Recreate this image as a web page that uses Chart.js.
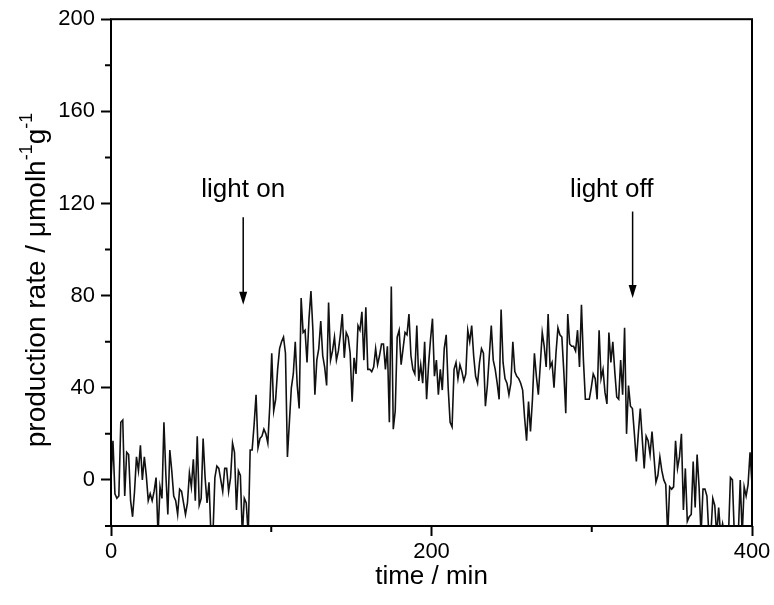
<!DOCTYPE html>
<html><head><meta charset="utf-8">
<script src="https://cdn.jsdelivr.net/npm/chart.js@4.4.1/dist/chart.umd.min.js"></script>
<style>html,body{margin:0;padding:0;background:#fff}</style>
</head><body>
<canvas id="c" width="774" height="605"></canvas>
<script>
const rate = [
  0, 17, -6, -8, -7, 25, 26, -7, 12, 11, -9, -16, -5, 10, 4, 15, 0, 10, 2, -9,
  -6, -9, -5, 1, -24, -3, -8, 25, 2, -15, 13, 4, -7, -9, -15, -4, -5, -10, -15, -10,
  3, -3, 9, -9, 19, -11, -8, 18, 1, -10, -1, -24, -24, 1, 6, 5, 0, -5, 5, 5,
  -5, 1, 16, 12, -13, 4, 2, -24, -8, -10, -24, 13, 13, 24, 37, 14,
  18, 19, 22, 20, 16, 32, 55, 30, 35, 48, 57, 60, 62, 55, 10, 25, 40, 46, 60, 41,
  31, 79, 64, 65, 51, 70, 82, 65, 37, 52, 57, 69, 54, 49, 41, 77, 52, 56, 62, 52,
  56, 63, 72, 53, 64, 62, 55, 34, 53, 46, 67, 65, 73, 52, 75, 48, 48, 47, 49, 57,
  50, 54, 59, 59, 48, 58, 25, 84, 22, 30, 62,
  65, 50, 57, 64, 63, 72, 54, 48, 46, 67, 43, 50, 42, 60, 35, 50, 61, 70, 45, 52,
  37, 48, 39, 57, 63, 40, 25, 23, 48, 51, 44, 50, 47, 43, 46, 65, 60, 67, 54, 45,
  42, 51, 57, 55, 32, 41, 54, 67, 52, 48, 42, 35, 74, 51, 44, 42, 37, 42, 60, 47,
  45, 44, 42, 39, 27, 17, 34, 21, 35, 55, 45, 37, 50, 64, 58, 49,
  72, 49, 51, 40, 55, 66, 63, 62, 47, 29, 72, 59, 58, 58, 56, 65, 49, 76, 52, 35,
  35, 35, 40, 46, 44, 35, 65, 44, 48, 38, 33, 64, 51, 60, 47, 36, 35, 52, 37, 66,
  20, 41, 32, 31, 20, 8, 20,
  31, 18, 5, 19, 17, 11, 21, 10, -1, 2, 10, 4, 0, -2, -24, -3, -4, -3, 17, 5,
  10, 20, -13, 5, -18, -16, -15, 8, -12, 11, -3, -24, -4, -4, -7, -24, -24, -8, -11, -24,
  -12, -24, -19, -24, -24, -24, 1, 0, -24, -24, -24, 0, -24, -3, -7, -2, 12, -2
];
const time = rate.map((_, i) => Math.round(i * 40000 / (rate.length - 1)) / 100);

const xMajorTicks = [0, 200, 400];
const xMinorTicks = [100, 300];
const yMajorTicks = [0, 40, 80, 120, 160, 200];
const yMinorTicks = [-20, 20, 60, 100, 140, 180];
const xTitle = 'time / min';
const yTitleParts = [['production rate / μmolh', false], ['-1', true], ['g', false], ['-1', true]];
const annotations = [
  { label: 'light on',  textX: 82.5,  textY: 126, arrowX: 82.5,  from: 114,   to: 76 },
  { label: 'light off', textX: 312.5, textY: 126, arrowX: 325.5, from: 116.5, to: 79 }
];

const FONT = '"Liberation Sans", Arial, Helvetica, sans-serif';

const framePlugin = {
  id: 'frame',
  afterDatasetsDraw(chart) {
    const { ctx, chartArea: a, scales: { x, y } } = chart;
    ctx.save();
    ctx.strokeStyle = '#000';
    ctx.fillStyle = '#000';
    ctx.lineWidth = 2;
    ctx.strokeRect(a.left, a.top, a.right - a.left, a.bottom - a.top);
    ctx.beginPath();
    yMinorTicks.forEach(v => { const p = y.getPixelForValue(v); ctx.moveTo(a.left - 6, p); ctx.lineTo(a.left, p); });
    xMinorTicks.forEach(v => { const p = x.getPixelForValue(v); ctx.moveTo(p, a.bottom); ctx.lineTo(p, a.bottom + 6); });
    ctx.stroke();
    ctx.font = '26px ' + FONT;
    ctx.textAlign = 'center';
    ctx.textBaseline = 'middle';
    annotations.forEach(an => {
      ctx.fillText(an.label, x.getPixelForValue(an.textX), y.getPixelForValue(an.textY));
      const ax = x.getPixelForValue(an.arrowX);
      const y0 = y.getPixelForValue(an.from), y1 = y.getPixelForValue(an.to);
      ctx.lineWidth = 1.5;
      ctx.beginPath(); ctx.moveTo(ax, y0); ctx.lineTo(ax, y1 - 10); ctx.stroke();
      ctx.beginPath(); ctx.moveTo(ax - 4, y1 - 13); ctx.lineTo(ax + 4, y1 - 13); ctx.lineTo(ax, y1); ctx.closePath(); ctx.fill();
    });
    ctx.font = '26px ' + FONT;
    ctx.fillText(xTitle, (a.left + a.right) / 2, 577);
    const big = '28px ' + FONT, small = '18px ' + FONT;
    let total = 0;
    yTitleParts.forEach(([t, sup]) => { ctx.font = sup ? small : big; total += ctx.measureText(t).width; });
    ctx.translate(35, 280);
    ctx.rotate(-Math.PI / 2);
    ctx.textAlign = 'left';
    ctx.textBaseline = 'alphabetic';
    let cx = -total / 2;
    yTitleParts.forEach(([t, sup]) => {
      ctx.font = sup ? small : big;
      ctx.fillText(t, cx, sup ? -3 : 10);
      cx += ctx.measureText(t).width;
    });
    ctx.restore();
  }
};

new Chart(document.getElementById('c'), {
  type: 'line',
  data: {
    datasets: [{
      data: time.map((t, i) => ({ x: t, y: rate[i] })),
      borderColor: '#111',
      borderWidth: 1.6,
      pointRadius: 0,
      tension: 0,
      fill: false
    }]
  },
  options: {
    responsive: false,
    animation: false,
    layout: { padding: { left: 0, right: 22, top: 11, bottom: 0 } },
    plugins: { legend: { display: false }, tooltip: { enabled: false } },
    scales: {
      x: {
        type: 'linear', min: 0, max: 400,
        afterBuildTicks: s => { s.ticks = xMajorTicks.map(v => ({ value: v })); },
        afterFit: s => { s.height = 79; },
        grid: { display: true, drawOnChartArea: false, drawTicks: true, tickLength: 10, tickWidth: 2, tickColor: '#000', color: '#000' },
        border: { display: false },
        ticks: { color: '#000', font: { family: FONT, size: 22 }, padding: 3, maxRotation: 0, autoSkip: false }
      },
      y: {
        type: 'linear', min: -20, max: 200,
        afterBuildTicks: s => { s.ticks = yMajorTicks.map(v => ({ value: v })); },
        afterFit: s => { s.width = 111; },
        grid: { display: true, drawOnChartArea: false, drawTicks: true, tickLength: 10, tickWidth: 2, tickColor: '#000', color: '#000' },
        border: { display: false },
        ticks: { color: '#000', font: { family: FONT, size: 22 }, padding: 6, autoSkip: false }
      }
    }
  },
  plugins: [framePlugin]
});
</script>
</body></html>
